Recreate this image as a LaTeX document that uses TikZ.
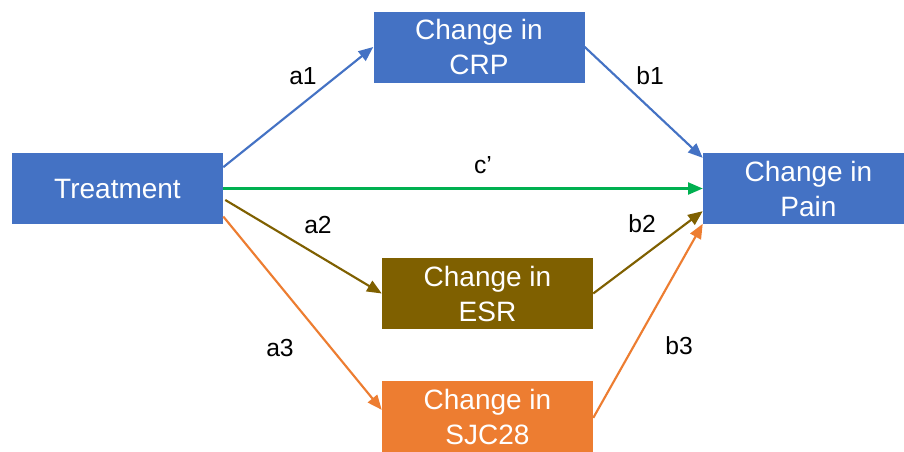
\documentclass[tikz,border=0pt]{standalone}
\usepackage{fontspec}
\setmainfont{Liberation Sans}
\usetikzlibrary{arrows.meta}
\definecolor{boxblue}{HTML}{4472C4}
\definecolor{boxbrown}{HTML}{7F6000}
\definecolor{boxorange}{HTML}{ED7D31}
\definecolor{arrgreen}{HTML}{00B050}
\tikzset{
  varbox/.style={rectangle, draw=none, minimum width=158.25pt, minimum height=53.25pt,
    inner sep=0pt, align=center, text=white, font=\fontsize{21}{26.25}\selectfont},
  path/.style={line width=1.6pt, -{Triangle[length=11pt,width=9pt]}},
  coef/.style={font=\fontsize{18.5}{22}\selectfont, text=black, inner sep=0pt}
}
\begin{document}
\begin{tikzpicture}[x=0.75pt,y=-0.75pt]
\useasboundingbox (0,0) rectangle (904,451);
\clip (0,0) rectangle (904,451);
\fill[white] (0,0) rectangle (904,451);

% variables
\node[varbox, fill=boxblue] (treat) at (117.5,188.5) {Treatment};
\node[varbox, fill=boxblue] (crp) at (479,47) {Change in\\CRP};
\node[varbox, fill=boxblue] (pain) at (808.5,188.5) {Change in\\Pain};
\node[varbox, fill=boxbrown] (esr) at (487.5,293.5) {Change in\\ESR};
\node[varbox, fill=boxorange] (sjc) at (487.5,416.5) {Change in\\SJC28};

% mediator paths
\draw[path, boxblue] ([yshift=16pt]treat.east) -- (crp.west);
\draw[path, boxblue] (crp.east) -- ([yshift=23pt]pain.west);
\draw[path, arrgreen] (treat.east) -- (pain.west);
\draw[path, boxbrown] ([xshift=1.5pt,yshift=-8.6pt]treat.east) -- (esr.west);
\draw[path, boxbrown] (esr.east) -- ([yshift=-17pt]pain.west);
\draw[path, boxorange] ([yshift=-21pt]treat.east) -- ([yshift=5pt]sjc.west);
\draw[path, boxorange] ([yshift=-1pt]sjc.east) -- ([yshift=-26.5pt]pain.west);

% coefficient labels
\node[coef] (la1) at (303,76) {a1};
\node[coef] (lb1) at (650,76) {b1};
\node[coef] (lc) at (483,165) {c’};
\node[coef] (la2) at (318,225) {a2};
\node[coef] (lb2) at (642,224) {b2};
\node[coef] (la3) at (280,348) {a3};
\node[coef] (lb3) at (679,346) {b3};
\end{tikzpicture}
\end{document}
